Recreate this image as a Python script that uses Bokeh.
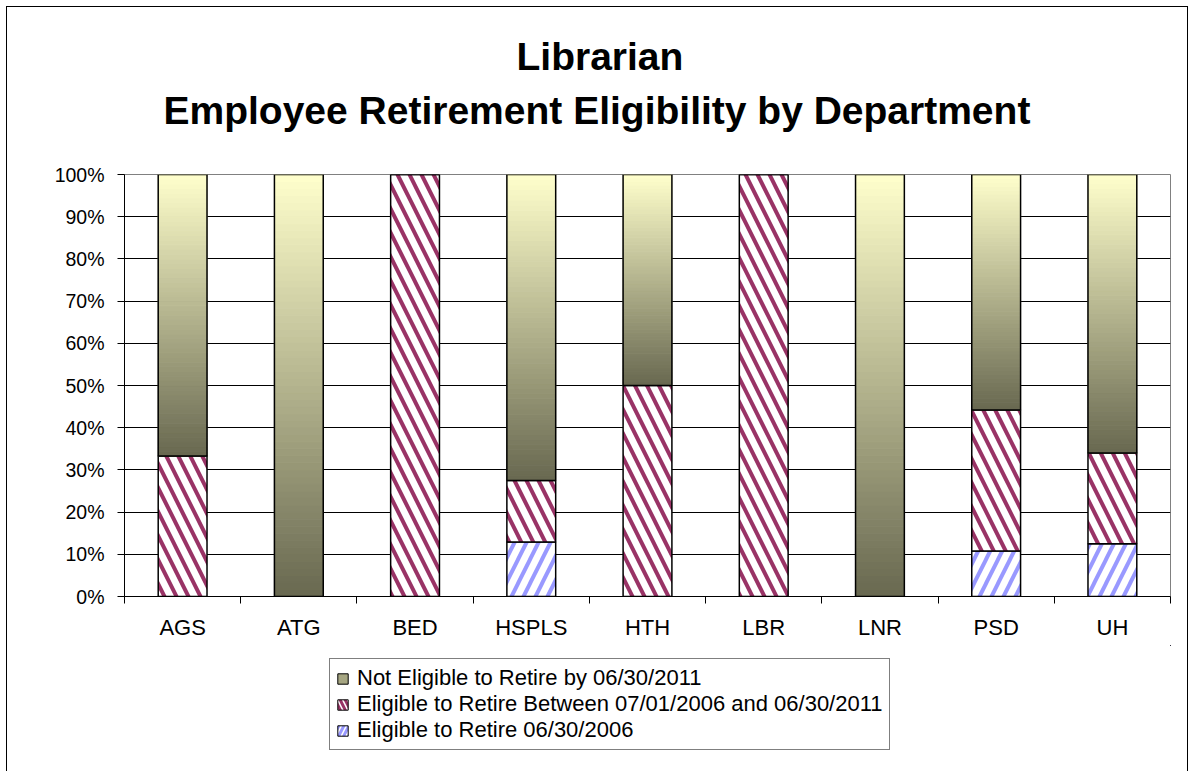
from bokeh.plotting import figure
from bokeh.layouts import row, column
from bokeh.models import (Range1d, FixedTicker, PrintfTickFormatter, Legend,
                          LegendItem, Title, ColumnDataSource, Spacer)
from bokeh.embed import file_html
from bokeh.resources import INLINE

# ---------------- data ----------------
categories = ["AGS", "ATG", "BED", "HSPLS", "HTH", "LBR", "LNR", "PSD", "UH"]
eligible_2006 = [0.0, 0.0, 0.0, 12.9, 0.0, 0.0, 0.0, 10.8, 12.5]
eligible_2006_2011 = [33.3, 0.0, 100.0, 14.6, 50.0, 100.0, 0.0, 33.4, 21.5]
not_eligible = [66.7, 100.0, 0.0, 72.5, 50.0, 0.0, 100.0, 55.8, 66.0]
y_ticks = [0, 10, 20, 30, 40, 50, 60, 70, 80, 90, 100]
series_labels = ["Not Eligible to Retire by 06/30/2011",
                 "Eligible to Retire Between 07/01/2006 and 06/30/2011",
                 "Eligible to Retire 06/30/2006"]
title_lines = ["Librarian", "Employee Retirement Eligibility by Department"]

# ---------------- style ----------------
FONT = "Liberation Sans"
BAR_W = 0.42
RED = "#993366"
BLUE = "#9999ff"
GRAD_BOTTOM = (104, 104, 80)
GRAD_TOP = (255, 255, 204)
N_SLICES = 60
HATCH = dict(hatch_scale=24, hatch_weight=4)

xs = list(range(len(categories)))
b_blue = [0.0] * len(xs)
t_blue = [b + v for b, v in zip(b_blue, eligible_2006)]
t_red = [b + v for b, v in zip(t_blue, eligible_2006_2011)]
t_gray = [b + v for b, v in zip(t_red, not_eligible)]

src_blue = ColumnDataSource(dict(x=xs, bottom=b_blue, top=t_blue))
src_red = ColumnDataSource(dict(x=xs, bottom=t_blue, top=t_red))
src_gray = ColumnDataSource(dict(x=xs, bottom=t_red, top=t_gray))

p = figure(width=1180, height=638, output_backend="svg", toolbar_location=None,
           x_range=Range1d(-0.5, len(categories) - 0.5), y_range=Range1d(0, 100),
           min_border_left=117, min_border_right=17, min_border_top=167,
           min_border_bottom=49)
p.title = None
p.background_fill_color = "white"
p.border_fill_color = "white"
p.outline_line_color = "#808080"
p.outline_line_width = 1

# blue segments
p.vbar(x="x", bottom="bottom", top="top", width=BAR_W, source=src_blue,
       fill_color="white", hatch_pattern="/", hatch_color=BLUE, **HATCH,
       line_color="black", line_width=1.5)
# red segments
p.vbar(x="x", bottom="bottom", top="top", width=BAR_W, source=src_red,
       fill_color="white", hatch_pattern="\\", hatch_color=RED, **HATCH,
       line_color="black", line_width=1.5)

# gradient segments (built from data as thin slices)
sl_left, sl_right, sl_bot, sl_top, sl_col = [], [], [], [], []
for x, b, v in zip(xs, t_red, not_eligible):
    if v <= 0:
        continue
    for k in range(N_SLICES):
        f = (k + 0.5) / N_SLICES
        c = tuple(int(round(GRAD_BOTTOM[j] + f * (GRAD_TOP[j] - GRAD_BOTTOM[j]))) for j in range(3))
        sl_left.append(x - BAR_W / 2)
        sl_right.append(x + BAR_W / 2)
        sl_bot.append(b + v * k / N_SLICES)
        sl_top.append(b + v * (k + 1) / N_SLICES)
        sl_col.append("#%02x%02x%02x" % c)
src_sl = ColumnDataSource(dict(left=sl_left, right=sl_right, bottom=sl_bot,
                               top=sl_top, color=sl_col))
p.quad(left="left", right="right", bottom="bottom", top="top", source=src_sl,
       fill_color="color", line_color="color", line_width=1)
p.vbar(x="x", bottom="bottom", top="top", width=BAR_W, source=src_gray,
       fill_color=None, line_color="black", line_width=1.5)

# ---------------- axes ----------------
p.xaxis.ticker = FixedTicker(ticks=xs, minor_ticks=[x - 0.5 for x in xs] + [xs[-1] + 0.5])
p.xaxis.major_label_overrides = {x: c for x, c in zip(xs, categories)}
p.xaxis.major_tick_out = 0
p.xaxis.major_tick_in = 0
p.xaxis.minor_tick_out = 7
p.xaxis.minor_tick_in = 0
p.xaxis.minor_tick_line_color = "black"
p.xaxis.axis_line_color = "black"
p.xaxis.major_label_text_font = FONT
p.xaxis.major_label_text_font_size = "22px"
p.xaxis.major_label_text_color = "black"
p.xaxis.major_label_standoff = 11

p.yaxis.ticker = FixedTicker(ticks=y_ticks)
p.yaxis.formatter = PrintfTickFormatter(format="%d%%")
p.yaxis.major_tick_out = 7
p.yaxis.major_tick_in = 0
p.yaxis.minor_tick_line_color = None
p.yaxis.axis_line_color = "black"
p.yaxis.major_tick_line_color = "black"
p.yaxis.major_label_text_font = FONT
p.yaxis.major_label_text_font_size = "19.5px"
p.yaxis.major_label_text_color = "black"
p.yaxis.major_label_standoff = 13

p.xgrid.grid_line_color = None
p.ygrid.ticker = FixedTicker(ticks=y_ticks)
p.ygrid.grid_line_color = "black"
p.ygrid.grid_line_width = 1
p.ygrid.level = "image"

# ---------------- titles ----------------
t2 = Title(text=title_lines[1], align="left", offset=39, standoff=86,
           text_font=FONT, text_font_size="39px", text_font_style="bold",
           text_color="black")
t1 = Title(text=title_lines[0], align="left", offset=392, standoff=-68,
           text_font=FONT, text_font_size="39px", text_font_style="bold",
           text_color="black")
p.add_layout(t2, "above")
p.add_layout(t1, "above")

# ---------------- legend (separate strip below the chart) ----------------
pl = figure(width=1180, height=126, output_backend="svg", toolbar_location=None,
            x_axis_type=None, y_axis_type=None,
            x_range=Range1d(-100, -99), y_range=Range1d(-100, -99),
            min_border_left=0, min_border_right=0, min_border_top=0,
            min_border_bottom=0)
pl.title = None
pl.outline_line_color = None
pl.background_fill_color = "white"
pl.border_fill_color = "white"
pl.xgrid.grid_line_color = None
pl.ygrid.grid_line_color = None
# same series drawn off-view so that the legend gets its swatches
lg_gray = pl.vbar(x="x", bottom="bottom", top="top", width=BAR_W, source=src_gray,
                  fill_color="#a6a682", line_color="black", line_width=1)
lg_red = pl.vbar(x="x", bottom="bottom", top="top", width=BAR_W, source=src_red,
                 fill_color="white", hatch_pattern="\\", hatch_color=RED,
                 hatch_scale=10, hatch_weight=3,
                 line_color="black", line_width=1)
lg_blue = pl.vbar(x="x", bottom="bottom", top="top", width=BAR_W, source=src_blue,
                  fill_color="white", hatch_pattern="/", hatch_color=BLUE,
                  hatch_scale=10, hatch_weight=3,
                  line_color="black", line_width=1)
legend = Legend(items=[LegendItem(label=series_labels[0], renderers=[lg_gray]),
                       LegendItem(label=series_labels[1], renderers=[lg_red]),
                       LegendItem(label=series_labels[2], renderers=[lg_blue])],
                location=(205, 21), orientation="vertical",
                glyph_width=13, glyph_height=13, label_standoff=8,
                padding=6, spacing=0, margin=0,
                label_text_font=FONT, label_text_font_size="22px",
                label_text_line_height=1.1, label_height=18,
                label_text_color="black",
                border_line_color="black", border_line_width=1.5,
                background_fill_color="white", background_fill_alpha=1)
pl.add_layout(legend, "center")

chart = column(p, pl, spacing=0)
chart.styles = {"outline": "1.5px solid black"}
layout = row(Spacer(width=7), column(Spacer(height=7), chart, spacing=0), spacing=0)
open("out.html", "w").write(file_html(layout, INLINE))
